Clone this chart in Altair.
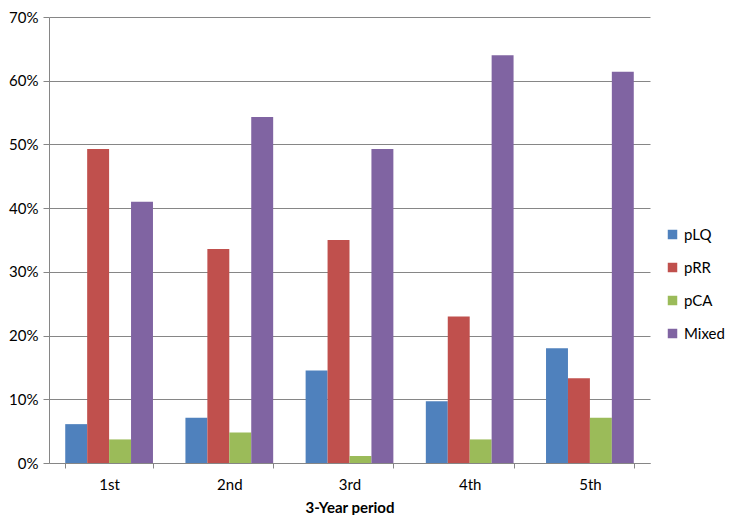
import altair as alt
import pandas as pd

periods = ["1st", "2nd", "3rd", "4th", "5th"]
series = ["pLQ", "pRR", "pCA", "Mixed"]
pLQ = [6.1, 7.1, 14.5, 9.7, 18.0]
pRR = [49.3, 33.6, 35.0, 23.0, 13.3]
pCA = [3.7, 4.8, 1.1, 3.7, 7.1]
Mixed = [41.0, 54.3, 49.3, 64.0, 61.4]
colors = ["#4F81BD", "#C0504D", "#9BBB59", "#8064A2"]

rows = []
for name, vals in zip(series, [pLQ, pRR, pCA, Mixed]):
    for p, v in zip(periods, vals):
        rows.append({"period": p, "series": name, "value": v / 100})
df = pd.DataFrame(rows)

font = "Lato"

chart = alt.Chart(df).mark_bar().encode(
    x=alt.X("period:N", sort=periods, title="3-Year period",
            scale=alt.Scale(paddingInner=0.27, paddingOuter=0.135),
            axis=alt.Axis(labelAngle=0, tickBand="extent", labelFontSize=15,
                          titleFontSize=15, titleFontWeight="bold",
                          labelPadding=9, titlePadding=8, tickSize=5)),
    xOffset=alt.XOffset("series:N", sort=series, scale=alt.Scale(paddingInner=0, paddingOuter=0)),
    y=alt.Y("value:Q", title=None,
            scale=alt.Scale(domain=[0, 0.7]),
            axis=alt.Axis(format=".0%", values=[0, .1, .2, .3, .4, .5, .6, .7],
                          labelFontSize=15, tickSize=6, labelPadding=5)),
    color=alt.Color("series:N", sort=series,
                    scale=alt.Scale(domain=series, range=colors),
                    legend=alt.Legend(title=None, orient="none", legendX=616, legendY=210,
                                      symbolType="square", symbolSize=90, labelFontSize=15,
                                      rowPadding=17, symbolStrokeWidth=0)),
).properties(
    width=601, height=446,
    padding={"left": 0, "top": 2, "right": 0, "bottom": 0},
).configure_axis(
    domainColor="#868686", tickColor="#868686", gridColor="#868686",
    labelColor="#000000", titleColor="#000000", labelFont=font, titleFont=font
).configure_axisX(grid=False).configure_legend(labelFont=font, labelColor="#000000"
).configure_view(stroke=None)

chart.save("out.html", embed_options={"renderer": "svg", "actions": False})
